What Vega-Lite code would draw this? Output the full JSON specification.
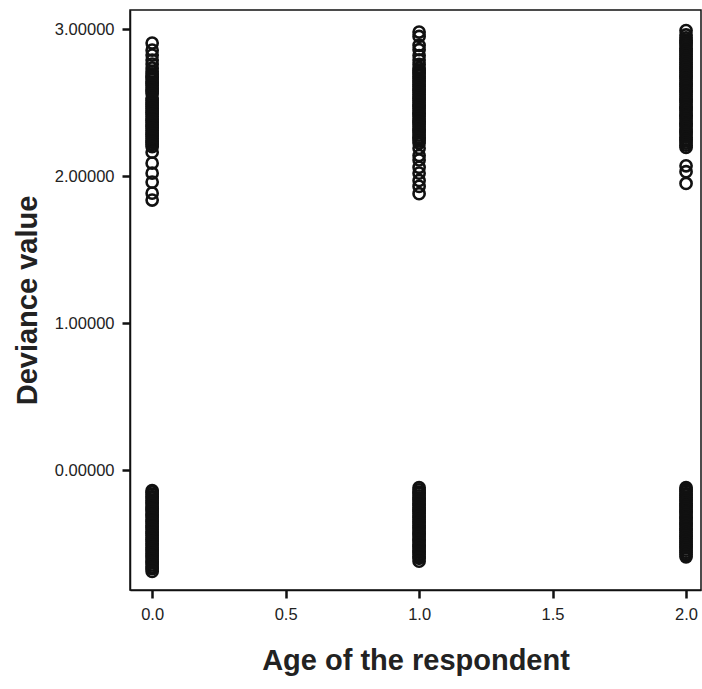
{
  "$schema": "https://vega.github.io/schema/vega-lite/v6.json",
  "width": 571,
  "height": 580,
  "autosize": "none",
  "padding": {"left": 130, "top": 10, "right": 1, "bottom": 99},
  "background": "white",
  "config": {
    "view": {"stroke": "#111", "strokeWidth": 1.5},
    "axis": {"grid": false, "domainColor": "#111", "domainWidth": 1.5, "tickColor": "#111", "tickWidth": 2.5, "tickSize": 8,
      "labelFont": "Liberation Sans", "labelFontSize": 16.5, "labelColor": "#222",
      "titleFont": "Liberation Sans", "titleFontSize": 29, "titleFontWeight": "bold", "titleColor": "#222"}
  },
  "data": {"values": [
    {"age":0,"dev":2.905},{"age":0,"dev":2.857},{"age":0,"dev":2.823},{"age":0,"dev":2.789},{"age":0,"dev":2.762},{"age":0,"dev":2.735},
    {"age":0,"dev":2.71},{"age":0,"dev":2.695},{"age":0,"dev":2.68},{"age":0,"dev":2.67},{"age":0,"dev":2.655},{"age":0,"dev":2.64},{"age":0,"dev":2.63},{"age":0,"dev":2.615},{"age":0,"dev":2.6},{"age":0,"dev":2.585},{"age":0,"dev":2.575},{"age":0,"dev":2.56},{"age":0,"dev":2.53},{"age":0,"dev":2.515},{"age":0,"dev":2.5},{"age":0,"dev":2.49},{"age":0,"dev":2.475},{"age":0,"dev":2.46},{"age":0,"dev":2.445},{"age":0,"dev":2.435},{"age":0,"dev":2.42},{"age":0,"dev":2.405},{"age":0,"dev":2.39},{"age":0,"dev":2.38},{"age":0,"dev":2.365},{"age":0,"dev":2.35},{"age":0,"dev":2.34},{"age":0,"dev":2.325},{"age":0,"dev":2.31},{"age":0,"dev":2.295},{"age":0,"dev":2.285},{"age":0,"dev":2.27},{"age":0,"dev":2.255},{"age":0,"dev":2.24},{"age":0,"dev":2.23},{"age":0,"dev":2.215},{"age":0,"dev":2.2},
    {"age":0,"dev":2.163},{"age":0,"dev":2.088},{"age":0,"dev":2.02},{"age":0,"dev":1.959},{"age":0,"dev":1.884},{"age":0,"dev":1.837},
    {"age":1,"dev":2.98},{"age":1,"dev":2.95},{"age":1,"dev":2.89},{"age":1,"dev":2.86},{"age":1,"dev":2.82},{"age":1,"dev":2.79},{"age":1,"dev":2.76},
    {"age":1,"dev":2.735},{"age":1,"dev":2.72},{"age":1,"dev":2.705},{"age":1,"dev":2.695},{"age":1,"dev":2.68},{"age":1,"dev":2.665},{"age":1,"dev":2.65},{"age":1,"dev":2.64},{"age":1,"dev":2.625},{"age":1,"dev":2.61},{"age":1,"dev":2.595},{"age":1,"dev":2.585},{"age":1,"dev":2.57},{"age":1,"dev":2.555},{"age":1,"dev":2.54},{"age":1,"dev":2.53},{"age":1,"dev":2.515},{"age":1,"dev":2.5},{"age":1,"dev":2.485},{"age":1,"dev":2.475},{"age":1,"dev":2.46},{"age":1,"dev":2.445},{"age":1,"dev":2.43},{"age":1,"dev":2.42},{"age":1,"dev":2.405},{"age":1,"dev":2.39},{"age":1,"dev":2.375},{"age":1,"dev":2.365},{"age":1,"dev":2.35},{"age":1,"dev":2.335},{"age":1,"dev":2.32},{"age":1,"dev":2.31},{"age":1,"dev":2.295},{"age":1,"dev":2.28},{"age":1,"dev":2.265},{"age":1,"dev":2.255},{"age":1,"dev":2.24},{"age":1,"dev":2.225},
    {"age":1,"dev":2.19},{"age":1,"dev":2.14},{"age":1,"dev":2.11},{"age":1,"dev":2.06},{"age":1,"dev":2.02},{"age":1,"dev":1.97},{"age":1,"dev":1.93},{"age":1,"dev":1.88},
    {"age":2,"dev":2.99},{"age":2,"dev":2.96},
    {"age":2,"dev":2.94},{"age":2,"dev":2.925},{"age":2,"dev":2.91},{"age":2,"dev":2.9},{"age":2,"dev":2.885},{"age":2,"dev":2.87},{"age":2,"dev":2.855},{"age":2,"dev":2.845},{"age":2,"dev":2.83},{"age":2,"dev":2.815},{"age":2,"dev":2.8},{"age":2,"dev":2.79},{"age":2,"dev":2.775},{"age":2,"dev":2.76},{"age":2,"dev":2.745},{"age":2,"dev":2.735},{"age":2,"dev":2.72},{"age":2,"dev":2.705},{"age":2,"dev":2.69},{"age":2,"dev":2.68},{"age":2,"dev":2.665},{"age":2,"dev":2.65},{"age":2,"dev":2.635},{"age":2,"dev":2.625},{"age":2,"dev":2.61},{"age":2,"dev":2.595},{"age":2,"dev":2.58},{"age":2,"dev":2.57},{"age":2,"dev":2.555},{"age":2,"dev":2.54},{"age":2,"dev":2.525},{"age":2,"dev":2.515},{"age":2,"dev":2.5},{"age":2,"dev":2.485},{"age":2,"dev":2.47},{"age":2,"dev":2.46},{"age":2,"dev":2.445},{"age":2,"dev":2.43},{"age":2,"dev":2.415},{"age":2,"dev":2.405},{"age":2,"dev":2.39},{"age":2,"dev":2.375},{"age":2,"dev":2.36},{"age":2,"dev":2.35},{"age":2,"dev":2.335},{"age":2,"dev":2.32},{"age":2,"dev":2.305},{"age":2,"dev":2.295},{"age":2,"dev":2.28},{"age":2,"dev":2.265},{"age":2,"dev":2.25},{"age":2,"dev":2.24},{"age":2,"dev":2.225},{"age":2,"dev":2.21},{"age":2,"dev":2.195},
    {"age":2,"dev":2.07},{"age":2,"dev":2.03},{"age":2,"dev":1.95},
    {"age":0,"dev":-0.14},{"age":0,"dev":-0.15},{"age":0,"dev":-0.165},{"age":0,"dev":-0.18},{"age":0,"dev":-0.19},{"age":0,"dev":-0.205},{"age":0,"dev":-0.22},{"age":0,"dev":-0.23},{"age":0,"dev":-0.245},{"age":0,"dev":-0.26},{"age":0,"dev":-0.27},{"age":0,"dev":-0.285},{"age":0,"dev":-0.3},{"age":0,"dev":-0.31},{"age":0,"dev":-0.325},{"age":0,"dev":-0.34},{"age":0,"dev":-0.35},{"age":0,"dev":-0.365},{"age":0,"dev":-0.38},{"age":0,"dev":-0.39},{"age":0,"dev":-0.405},{"age":0,"dev":-0.42},{"age":0,"dev":-0.43},{"age":0,"dev":-0.445},{"age":0,"dev":-0.46},{"age":0,"dev":-0.47},{"age":0,"dev":-0.485},{"age":0,"dev":-0.5},{"age":0,"dev":-0.51},{"age":0,"dev":-0.525},{"age":0,"dev":-0.54},{"age":0,"dev":-0.55},{"age":0,"dev":-0.565},{"age":0,"dev":-0.58},{"age":0,"dev":-0.59},{"age":0,"dev":-0.605},{"age":0,"dev":-0.62},{"age":0,"dev":-0.63},{"age":0,"dev":-0.645},{"age":0,"dev":-0.66},{"age":0,"dev":-0.67},{"age":0,"dev":-0.69},
    {"age":1,"dev":-0.12},{"age":1,"dev":-0.135},{"age":1,"dev":-0.15},{"age":1,"dev":-0.16},{"age":1,"dev":-0.175},{"age":1,"dev":-0.19},{"age":1,"dev":-0.2},{"age":1,"dev":-0.215},{"age":1,"dev":-0.23},{"age":1,"dev":-0.24},{"age":1,"dev":-0.255},{"age":1,"dev":-0.27},{"age":1,"dev":-0.28},{"age":1,"dev":-0.295},{"age":1,"dev":-0.31},{"age":1,"dev":-0.32},{"age":1,"dev":-0.335},{"age":1,"dev":-0.35},{"age":1,"dev":-0.36},{"age":1,"dev":-0.375},{"age":1,"dev":-0.39},{"age":1,"dev":-0.4},{"age":1,"dev":-0.415},{"age":1,"dev":-0.43},{"age":1,"dev":-0.44},{"age":1,"dev":-0.455},{"age":1,"dev":-0.47},{"age":1,"dev":-0.48},{"age":1,"dev":-0.495},{"age":1,"dev":-0.51},{"age":1,"dev":-0.52},{"age":1,"dev":-0.535},{"age":1,"dev":-0.55},{"age":1,"dev":-0.56},{"age":1,"dev":-0.575},{"age":1,"dev":-0.59},{"age":1,"dev":-0.6},{"age":1,"dev":-0.62},
    {"age":2,"dev":-0.12},{"age":2,"dev":-0.13},{"age":2,"dev":-0.145},{"age":2,"dev":-0.16},{"age":2,"dev":-0.17},{"age":2,"dev":-0.185},{"age":2,"dev":-0.2},{"age":2,"dev":-0.21},{"age":2,"dev":-0.225},{"age":2,"dev":-0.24},{"age":2,"dev":-0.25},{"age":2,"dev":-0.265},{"age":2,"dev":-0.28},{"age":2,"dev":-0.29},{"age":2,"dev":-0.305},{"age":2,"dev":-0.32},{"age":2,"dev":-0.33},{"age":2,"dev":-0.345},{"age":2,"dev":-0.36},{"age":2,"dev":-0.37},{"age":2,"dev":-0.385},{"age":2,"dev":-0.4},{"age":2,"dev":-0.41},{"age":2,"dev":-0.425},{"age":2,"dev":-0.44},{"age":2,"dev":-0.45},{"age":2,"dev":-0.465},{"age":2,"dev":-0.48},{"age":2,"dev":-0.49},{"age":2,"dev":-0.505},{"age":2,"dev":-0.52},{"age":2,"dev":-0.53},{"age":2,"dev":-0.545},{"age":2,"dev":-0.56},{"age":2,"dev":-0.575},{"age":2,"dev":-0.59}
  ]},
  "mark": {"type": "point", "shape": "circle", "filled": false, "stroke": "#111", "strokeWidth": 2.6, "size": 125, "opacity": 1, "clip": true},
  "encoding": {
    "x": {"field": "age", "type": "quantitative", "title": "Age of the respondent",
      "scale": {"domain": [-0.083, 2.056], "nice": false, "zero": false},
      "axis": {"values": [0, 0.5, 1, 1.5, 2], "format": ".1f", "labelPadding": 8, "titlePadding": 24}},
    "y": {"field": "dev", "type": "quantitative", "title": "Deviance value",
      "scale": {"domain": [-0.816, 3.13], "nice": false, "zero": false},
      "axis": {"values": [0, 1, 2, 3], "format": ".5f", "labelPadding": 8, "titlePadding": 12}}
  }
}
